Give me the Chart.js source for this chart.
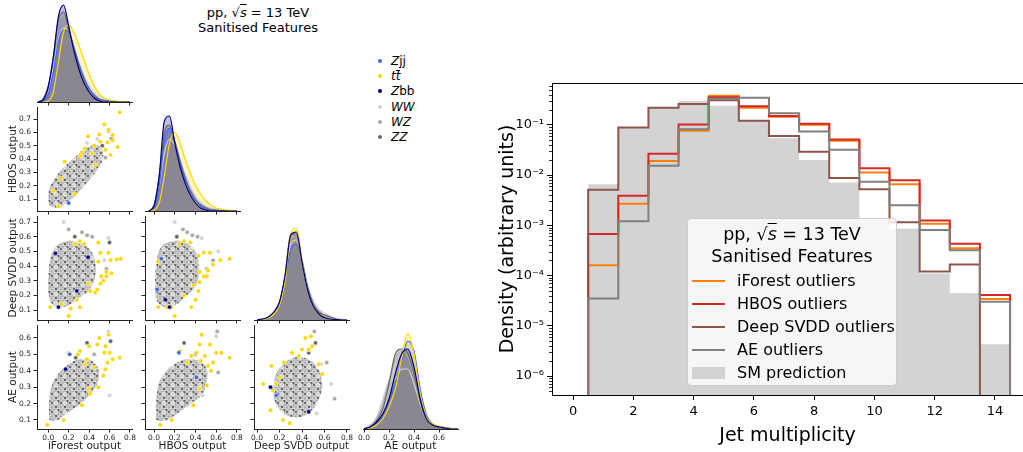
<!DOCTYPE html>
<html>
<head>
<meta charset="utf-8">
<script src="https://cdn.jsdelivr.net/npm/chart.js@4.4.0/dist/chart.umd.min.js"></script>
<style>
  body { margin: 0; width: 1023px; height: 452px; overflow: hidden; background: #fff; position: relative;
         font-family: "DejaVu Sans", sans-serif; color: #000; }
  canvas { position: absolute; }
  .txt { position: absolute; white-space: nowrap; }
  .rad { text-decoration: overline; font-style: italic; }
  .bar { display: inline-block; border-top: 1px solid #000; line-height: 11px; }
</style>
</head>
<body>
<script>
// ---------- data ----------
// physics processes (same order everywhere)
const classNames = ['<i>Z</i>jj', '<i>t<span class="bar">t</span></i>', '<i>Z</i>bb', '<i>WW</i>', '<i>WZ</i>', '<i>ZZ</i>'];
const classColors = ['#4169e1', '#ffd700', '#000080', '#d3d3d3', '#a9a9a9', '#696969'];

// right plot: jet multiplicity histograms (density per bin)
const jetBins = [1, 2, 3, 4, 5, 6, 7, 8, 9, 10, 11, 12, 13, 14];
const iforestOut = [1.6e-4, 2.7e-3, 0.019, 0.076, 0.38, 0.22, 0.145, 0.1, 0.048, 0.0112, 6.6e-3, 1.07e-3, 3.5e-4, 3.4e-5];
const hbosOut = [6.7e-4, 3.9e-3, 0.0265, 0.101, 0.355, 0.235, 0.15, 0.105, 0.051, 0.0137, 7.9e-3, 1.25e-3, 4.3e-4, 4.1e-5];
const svddOut = [5.1e-3, 0.088, 0.22, 0.26, 0.31, 0.12, 0.06, 0.029, 8.7e-3, 5.2e-3, 1.15e-3, 1.2e-4, 1.66e-4, 0];
const aeOut = [3.5e-5, 1.2e-3, 0.0153, 0.082, 0.33, 0.345, 0.17, 0.074, 0.032, 7.4e-3, 2.5e-3, 8.1e-4, 3.2e-4, 3.0e-5];
const smPred = [6.6e-3, 0.09, 0.22, 0.30, 0.24, 0.12, 0.054, 0.020, 7.1e-3, 1.3e-3, 8.5e-4, 1.1e-4, 4.5e-5, 4.3e-6];
const jetTicks = [0, 2, 4, 6, 8, 10, 12, 14];
const densityTicks = [1e-6, 1e-5, 1e-4, 1e-3, 1e-2, 1e-1];

// corner plot: axis names and ticks
const axisNames = ['iForest output', 'HBOS output', 'Deep SVDD output', 'AE output'];
const xTickVals = [[0, 0.2, 0.4, 0.6, 0.8], [0, 0.2, 0.4, 0.6, 0.8], [0, 0.2, 0.4, 0.6, 0.8], [0, 0.2, 0.4, 0.6]];
const yTickVals = [null, [0.1, 0.2, 0.3, 0.4, 0.5, 0.6, 0.7], [0.1, 0.2, 0.3, 0.4, 0.5, 0.6, 0.7], [0.1, 0.2, 0.3, 0.4, 0.5, 0.6]];

// diagonal KDEs (relative density), rows = Zjj, tt, Zbb, WW, WZ, ZZ
const gridIf = [-0.1, -0.05, 0, 0.05, 0.1, 0.15, 0.2, 0.25, 0.3, 0.35, 0.4, 0.45, 0.5, 0.55, 0.6, 0.65, 0.7, 0.75, 0.8];
const kdeIf = [
  [0, 1, 8, 30, 60, 72, 70, 55, 38, 24, 13, 6, 2, 1, 0, 0, 0, 0, 0],
  [0, 0, 1, 10, 40, 70, 77, 70, 57, 42, 28, 16, 8, 4, 2, 1, 0.5, 0.3, 0],
  [0, 2, 15, 45, 86, 97, 76, 52, 33, 19, 10, 4, 1, 0, 0, 0, 0, 0, 0],
  [0, 2, 10, 35, 62, 74, 70, 56, 40, 27, 17, 10, 5, 3, 2, 1, 0.5, 0, 0],
  [0, 3, 15, 43, 78, 86, 72, 55, 38, 24, 14, 7, 3, 1.5, 1, 0.5, 0, 0, 0],
  [0, 3, 16, 45, 82, 90, 72, 54, 37, 23, 13, 7, 3, 1.5, 1, 0.5, 0, 0, 0]
];
const gridHb = [-0.05, 0, 0.05, 0.1, 0.15, 0.2, 0.25, 0.3, 0.35, 0.4, 0.45, 0.5, 0.55, 0.6, 0.65, 0.7, 0.75, 0.8];
const kdeHb = [
  [0, 3, 25, 70, 83, 68, 48, 32, 20, 11, 5, 2, 1, 0, 0, 0, 0, 0],
  [0, 1, 8, 35, 68, 79, 68, 52, 38, 26, 17, 10, 6, 3, 2, 1, 0.5, 0],
  [0, 5, 35, 90, 95, 68, 45, 28, 16, 8, 3, 1, 0, 0, 0, 0, 0, 0],
  [0, 4, 25, 58, 72, 66, 52, 37, 25, 15, 9, 5, 3, 2, 1, 0.5, 0, 0],
  [0, 5, 32, 74, 84, 70, 52, 35, 22, 13, 7, 4, 2, 1, 0.5, 0, 0, 0],
  [0, 6, 35, 78, 86, 70, 50, 33, 20, 11, 6, 3, 1.5, 1, 0.5, 0, 0, 0]
];
const gridSv = [0, 0.05, 0.1, 0.15, 0.2, 0.25, 0.3, 0.35, 0.4, 0.45, 0.5, 0.55, 0.6, 0.65, 0.7, 0.75, 0.8];
const kdeSv = [
  [0, 1, 3, 8, 18, 42, 70, 76, 60, 33, 15, 6, 2, 1, 0, 0, 0],
  [0, 0.5, 2, 6, 15, 40, 85, 92, 60, 30, 14, 6, 3, 1, 0.5, 0, 0],
  [0, 1, 3, 8, 18, 45, 85, 88, 58, 30, 14, 6, 2.5, 1, 0.5, 0, 0],
  [0, 0.5, 2, 6, 16, 40, 76, 80, 58, 35, 20, 11, 7, 4, 2, 1, 0],
  [0, 0.5, 2, 6, 17, 44, 82, 84, 58, 33, 17, 9, 5, 3, 1, 0.5, 0],
  [0, 0.5, 2, 6, 17, 45, 86, 86, 58, 32, 16, 8, 5, 3, 1, 0, 0]
];
const gridAe = [0, 0.05, 0.1, 0.15, 0.2, 0.25, 0.3, 0.35, 0.4, 0.45, 0.5, 0.55, 0.6, 0.65, 0.7, 0.75];
const kdeAe = [
  [0, 2, 6, 14, 28, 45, 68, 88, 78, 40, 14, 5, 2, 1, 0, 0],
  [0, 1, 4, 10, 22, 40, 70, 96, 75, 35, 12, 5, 3, 1.5, 0.5, 0],
  [0, 2, 7, 15, 30, 55, 75, 80, 62, 30, 10, 4, 2, 1, 0, 0],
  [1, 4, 12, 30, 48, 50, 60, 60, 45, 25, 10, 5, 3, 2, 1, 0],
  [0, 3, 10, 25, 48, 70, 78, 72, 52, 27, 10, 4, 2, 1, 0.5, 0],
  [0, 2, 8, 20, 45, 75, 80, 76, 55, 28, 10, 4, 2, 1, 0, 0]
];

// scatter panels: dense core outline [x, y] and single visible events [x, y, class]
const cloudIfHb = [[0.01, 0.05], [0.1, 0.035], [0.21, 0.09], [0.31, 0.16], [0.41, 0.25], [0.49, 0.33], [0.54, 0.42], [0.5, 0.5], [0.39, 0.49], [0.3, 0.44], [0.21, 0.38], [0.13, 0.32], [0.05, 0.24], [0.0, 0.14]];
const eventsIfHb = [
  [0.62, 0.55, 5], [0.48, 0.55, 3], [0.59, 0.61, 4], [0.43, 0.49, 4], [0.53, 0.5, 5], [0.38, 0.52, 3], [0.56, 0.41, 4],
  [0.70, 0.75, 1], [0.55, 0.66, 1], [0.59, 0.62, 1], [0.39, 0.57, 1], [0.50, 0.585, 1], [0.63, 0.58, 1], [0.63, 0.54, 1],
  [0.68, 0.49, 1], [0.61, 0.43, 1], [0.56, 0.47, 1], [0.51, 0.53, 1], [0.43, 0.44, 1], [0.33, 0.45, 1], [0.31, 0.42, 1],
  [0.16, 0.38, 1], [0.12, 0.255, 1], [0.05, 0.16, 1], [0.1, 0.045, 1], [0.26, 0.137, 1], [0.46, 0.355, 1], [0.58, 0.525, 1],
  [0.45, 0.5, 1], [0.36, 0.48, 1], [0.2, 0.07, 0]
];
const cloudIfSv = [[0.0, 0.2], [0.04, 0.14], [0.12, 0.12], [0.22, 0.14], [0.32, 0.19], [0.41, 0.24], [0.46, 0.33], [0.46, 0.43], [0.41, 0.51], [0.3, 0.56], [0.18, 0.57], [0.07, 0.53], [0.02, 0.45], [0.0, 0.32]];
const eventsIfSv = [
  [0.15, 0.70, 3], [0.2, 0.65, 4], [0.33, 0.63, 4], [0.38, 0.61, 4], [0.43, 0.6, 4], [0.59, 0.59, 3], [0.6, 0.56, 5],
  [0.57, 0.38, 4], [0.55, 0.44, 3], [0.26, 0.6, 5],
  [0.02, 0.12, 1], [0.2, 0.06, 1], [0.22, 0.11, 1], [0.31, 0.12, 1], [0.39, 0.28, 1], [0.41, 0.23, 1], [0.46, 0.22, 1],
  [0.48, 0.24, 1], [0.51, 0.28, 1], [0.54, 0.3, 1], [0.57, 0.33, 1], [0.52, 0.33, 1], [0.57, 0.36, 1], [0.62, 0.35, 1],
  [0.67, 0.445, 1], [0.71, 0.45, 1], [0.61, 0.44, 1], [0.59, 0.49, 1], [0.51, 0.49, 1], [0.49, 0.43, 1], [0.31, 0.57, 1],
  [0.35, 0.55, 1], [0.26, 0.55, 1], [0.49, 0.56, 1], [0.13, 0.14, 1], [0.28, 0.17, 1],
  [0.07, 0.486, 2], [0.1, 0.12, 2], [0.39, 0.46, 2], [0.28, 0.23, 2]
];
const cloudHbSv = [[0.01, 0.2], [0.05, 0.14], [0.13, 0.12], [0.22, 0.14], [0.3, 0.19], [0.39, 0.25], [0.43, 0.33], [0.43, 0.43], [0.39, 0.51], [0.3, 0.56], [0.18, 0.57], [0.07, 0.53], [0.03, 0.45], [0.01, 0.32]];
const eventsHbSv = [
  [0.2, 0.70, 3], [0.28, 0.65, 4], [0.32, 0.63, 4], [0.37, 0.61, 4], [0.42, 0.6, 4], [0.46, 0.59, 3], [0.62, 0.5, 3],
  [0.57, 0.44, 4], [0.51, 0.38, 4], [0.22, 0.6, 5],
  [0.04, 0.12, 1], [0.125, 0.12, 1], [0.2, 0.06, 1], [0.17, 0.12, 1], [0.36, 0.12, 1], [0.29, 0.2, 1], [0.43, 0.23, 1],
  [0.38, 0.27, 1], [0.44, 0.29, 1], [0.48, 0.33, 1], [0.51, 0.33, 1], [0.44, 0.36, 1], [0.52, 0.37, 1], [0.57, 0.41, 1],
  [0.64, 0.44, 1], [0.73, 0.45, 1], [0.54, 0.49, 1], [0.48, 0.49, 1], [0.43, 0.47, 1], [0.04, 0.43, 1], [0.29, 0.57, 1],
  [0.35, 0.56, 1], [0.24, 0.55, 1], [0.4, 0.17, 1],
  [0.15, 0.12, 2], [0.11, 0.17, 2], [0.07, 0.45, 0], [0.03, 0.24, 0]
];
const cloudIfAe = [[0.01, 0.1], [0.08, 0.095], [0.16, 0.13], [0.25, 0.17], [0.34, 0.21], [0.43, 0.27], [0.49, 0.34], [0.49, 0.41], [0.43, 0.46], [0.3, 0.47], [0.2, 0.44], [0.11, 0.39], [0.04, 0.32], [0.01, 0.22]];
const eventsIfAe = [
  [0.59, 0.64, 3], [0.61, 0.58, 5], [0.38, 0.57, 5], [0.2, 0.51, 3], [0.6, 0.25, 3], [0.48, 0.4, 4], [0.45, 0.5, 4], [0.27, 0.48, 5],
  [-0.01, 0.07, 1], [0.15, 0.1, 1], [0.33, 0.19, 1], [0.41, 0.26, 1], [0.40, 0.29, 1], [0.49, 0.3, 1], [0.54, 0.37, 1],
  [0.56, 0.41, 1], [0.58, 0.45, 1], [0.63, 0.47, 1], [0.70, 0.48, 1], [0.6, 0.51, 1], [0.55, 0.51, 1], [0.56, 0.55, 1],
  [0.59, 0.62, 1], [0.5, 0.6, 1], [0.4, 0.55, 1], [0.48, 0.56, 1], [0.31, 0.52, 1], [0.38, 0.47, 1], [0.29, 0.5, 1],
  [0.45, 0.42, 1], [0.36, 0.44, 1],
  [0.21, 0.5, 0], [0.17, 0.41, 2]
];
const cloudHbAe = [[0.02, 0.1], [0.1, 0.095], [0.18, 0.12], [0.27, 0.16], [0.36, 0.2], [0.46, 0.25], [0.51, 0.33], [0.51, 0.41], [0.44, 0.46], [0.32, 0.47], [0.22, 0.45], [0.12, 0.4], [0.05, 0.33], [0.02, 0.22]];
const eventsHbAe = [
  [0.61, 0.64, 4], [0.6, 0.61, 3], [0.29, 0.57, 5], [0.62, 0.39, 4], [0.47, 0.25, 3], [0.4, 0.5, 4],
  [0.06, 0.07, 1], [0.17, 0.1, 1], [0.38, 0.19, 1], [0.44, 0.29, 1], [0.51, 0.31, 1], [0.55, 0.4, 1], [0.57, 0.45, 1],
  [0.6, 0.51, 1], [0.65, 0.51, 1], [0.73, 0.48, 1], [0.54, 0.56, 1], [0.46, 0.62, 1], [0.44, 0.56, 1], [0.41, 0.51, 1],
  [0.49, 0.49, 1], [0.25, 0.52, 1], [0.32, 0.45, 1], [0.45, 0.46, 1], [0.36, 0.49, 1], [0.52, 0.43, 1],
  [0.24, 0.51, 0], [0.41, 0.36, 0]
];
const cloudSvAe = [[0.14, 0.3], [0.16, 0.21], [0.22, 0.15], [0.3, 0.12], [0.4, 0.12], [0.49, 0.16], [0.55, 0.23], [0.58, 0.3], [0.56, 0.39], [0.5, 0.45], [0.42, 0.48], [0.32, 0.48], [0.23, 0.44], [0.17, 0.38]];
const eventsSvAe = [
  [0.51, 0.64, 4], [0.52, 0.57, 5], [0.46, 0.51, 5], [0.62, 0.45, 4], [0.66, 0.32, 3], [0.69, 0.23, 4], [0.57, 0.44, 3], [0.53, 0.14, 3],
  [0.056, 0.32, 1], [0.13, 0.43, 1], [0.12, 0.16, 1], [0.23, 0.1, 1], [0.29, 0.08, 1], [0.43, 0.6, 1], [0.48, 0.61, 1],
  [0.49, 0.55, 1], [0.46, 0.53, 1], [0.37, 0.49, 1], [0.31, 0.51, 1], [0.55, 0.44, 1], [0.58, 0.38, 1], [0.2, 0.36, 1],
  [0.17, 0.32, 1], [0.14, 0.28, 1], [0.46, 0.15, 1], [0.4, 0.53, 1], [0.24, 0.45, 1],
  [0.12, 0.3, 2], [0.17, 0.25, 0], [0.46, 0.15, 2]
];

// ---------- layout / style ----------
const FONT = '"DejaVu Sans", sans-serif';
Chart.defaults.font.family = FONT;
Chart.defaults.color = '#222';

const colLeft = [37, 145, 254, 363];
const rowTop = [-2, 107, 216, 325];
const PW = 95, PH = 104;
const ML = 37, MT = 10, MR = 10, MB = 24;
const xLimits = [[-0.11, 0.82], [-0.087, 0.83], [-0.027, 0.818], [-0.008, 0.752]];
const yLimits = [null, [0.01, 0.79], [0.032, 0.741], [0.045, 0.679]];

function makeCanvas(left, top, w, h) {
  const c = document.createElement('canvas');
  c.width = w; c.height = h;
  c.style.left = left + 'px'; c.style.top = top + 'px';
  document.body.appendChild(c);
  return c.getContext('2d');
}

// force axis box sizes so plot areas line up exactly
const fixSize = (w, h) => (s) => {
  if (w != null) s.width = w;
  if (h != null) s.height = h;
  s.paddingLeft = s.paddingRight = s.paddingTop = s.paddingBottom = 0;
};

function withAlpha(hex, a) {
  const n = parseInt(hex.slice(1), 16);
  return `rgba(${n >> 16},${(n >> 8) & 255},${n & 255},${a})`;
}

// texture for the dense core of the scatter clouds (white-edged grey markers)
function cloudPattern() {
  const t = document.createElement('canvas');
  t.width = t.height = 9;
  const g = t.getContext('2d');
  g.fillStyle = '#b4b4b4'; g.fillRect(0, 0, 9, 9);
  const dot = (x, y, col) => {
    g.beginPath(); g.arc(x, y, 1.9, 0, 2 * Math.PI); g.fillStyle = '#fff'; g.fill();
    g.beginPath(); g.arc(x, y, 1.45, 0, 2 * Math.PI); g.fillStyle = col; g.fill();
  };
  dot(2, 2, '#696969'); dot(6.8, 2.6, '#a9a9a9'); dot(4.4, 5.2, '#696969');
  dot(2.1, 7, '#d3d3d3'); dot(7, 7, '#6e6e6e');
  return g.createPattern(t, 'repeat');
}

function kdeSets(grid, kde) {
  const drawOrder = [3, 4, 5, 0, 1, 2]; // greys at the back, Zbb on top
  return drawOrder.map((c, k) => ({
    type: 'line',
    data: grid.map((x, i) => ({ x, y: kde[c][i] })),
    borderColor: classColors[c],
    backgroundColor: withAlpha(classColors[c], 0.25),
    borderWidth: 1.2,
    fill: 'origin',
    pointRadius: 0,
    cubicInterpolationMode: 'monotone',
    order: 10 - k
  }));
}

function scatterSets(cloud, events) {
  const sets = [{
    type: 'line',
    data: cloud.concat([cloud[0]]).map(([x, y]) => ({ x, y })),
    fill: 'shape',
    backgroundColor: cloudPattern(),
    borderWidth: 0,
    pointRadius: 0,
    tension: 0.35,
    order: 20
  }];
  [3, 4, 5, 1, 0, 2].forEach((c, k) => {
    sets.push({
      type: 'scatter',
      data: events.filter(e => e[2] === c).map(([x, y]) => ({ x, y })),
      pointRadius: 2.2,
      pointBackgroundColor: classColors[c],
      pointBorderColor: '#fff',
      pointBorderWidth: 0.5,
      order: 10 - k
    });
  });
  return sets;
}

function cornerPanel(row, col, datasets) {
  const diag = row === col;
  const last = row === 3;
  const ctx = makeCanvas(colLeft[col] - ML, rowTop[row] - MT, ML + PW + MR, MT + PH + MB);
  const tickFont = { family: FONT, size: 7.5 };
  const titleFont = { family: FONT, size: 10.5 };
  const yScale = diag ? { type: 'linear', display: false, min: 0, max: 104 } : {
    type: 'linear', min: yLimits[row][0], max: yLimits[row][1],
    afterBuildTicks: s => { s.ticks = yTickVals[row].map(v => ({ value: v })); },
    afterFit: fixSize(ML, null),
    grid: { drawOnChartArea: false, tickLength: 3.5, color: '#222' },
    border: { color: '#222', width: 1 },
    ticks: { display: col === 0, font: tickFont, color: '#222', padding: 2.5, callback: v => v.toFixed(1) },
    title: { display: col === 0, text: axisNames[row], font: titleFont, color: '#222', padding: { top: 6.5 } }
  };
  return new Chart(ctx, {
    type: 'scatter',
    data: { datasets },
    options: {
      responsive: false, animation: false, events: [],
      layout: { padding: { left: diag ? ML : 0, top: MT, right: MR, bottom: 0 } },
      plugins: { legend: { display: false }, tooltip: { enabled: false }, filler: { drawTime: 'beforeDatasetsDraw' } },
      scales: {
        x: {
          type: 'linear', min: xLimits[col][0], max: xLimits[col][1],
          afterBuildTicks: s => { s.ticks = xTickVals[col].map(v => ({ value: v })); },
          afterFit: fixSize(null, MB),
          grid: { drawOnChartArea: false, tickLength: 3.5, color: '#222' },
          border: { color: '#222', width: 1 },
          ticks: { display: last, font: tickFont, color: '#222', padding: 1, maxRotation: 0, callback: v => v.toFixed(1) },
          title: { display: last, text: axisNames[col], font: titleFont, color: '#222', padding: 0 }
        },
        y: yScale
      }
    }
  });
}

// ---------- corner plot ----------
cornerPanel(0, 0, kdeSets(gridIf, kdeIf));
cornerPanel(1, 0, scatterSets(cloudIfHb, eventsIfHb));
cornerPanel(1, 1, kdeSets(gridHb, kdeHb));
cornerPanel(2, 0, scatterSets(cloudIfSv, eventsIfSv));
cornerPanel(2, 1, scatterSets(cloudHbSv, eventsHbSv));
cornerPanel(2, 2, kdeSets(gridSv, kdeSv));
cornerPanel(3, 0, scatterSets(cloudIfAe, eventsIfAe));
cornerPanel(3, 1, scatterSets(cloudHbAe, eventsHbAe));
cornerPanel(3, 2, scatterSets(cloudSvAe, eventsSvAe));
cornerPanel(3, 3, kdeSets(gridAe, kdeAe));

function addText(html, css) {
  const d = document.createElement('div');
  d.className = 'txt';
  d.innerHTML = html;
  Object.assign(d.style, css);
  document.body.appendChild(d);
  return d;
}

addText('pp, √<span class="rad">s</span> = 13 TeV<br>Sanitised Features',
  { left: '158px', top: '5px', width: '200px', textAlign: 'center', fontSize: '13px', lineHeight: '15px' });

const legendRowsY = [61, 76, 91, 107, 122, 137];
classNames.forEach((name, i) => {
  addText('', { left: '378px', top: (legendRowsY[i] - 2) + 'px', width: '4px', height: '4px',
    borderRadius: '50%', background: classColors[i] });
  addText(name, { left: '391px', top: (legendRowsY[i] - 8) + 'px', fontSize: '12px', lineHeight: '16px' });
});

// ---------- jet multiplicity plot ----------
const FLOOR = 1e-9;
function stepPoints(vals) {
  const lo = jetBins[0] - 0.5, n = vals.length;
  const pts = [{ x: lo, y: FLOOR }];
  vals.forEach((v, i) => pts.push({ x: jetBins[i] - 0.5, y: v > 0 ? v : FLOOR }));
  pts.push({ x: jetBins[n - 1] + 0.5, y: vals[n - 1] > 0 ? vals[n - 1] : FLOOR });
  pts.push({ x: jetBins[n - 1] + 0.5, y: FLOOR });
  return pts;
}

const series = [
  { label: 'iForest outliers', values: iforestOut, color: '#ff7f0e', order: 4 },
  { label: 'HBOS outliers', values: hbosOut, color: '#d62728', order: 3 },
  { label: 'Deep SVDD outliers', values: svddOut, color: '#8c564b', order: 2 },
  { label: 'AE outliers', values: aeOut, color: '#7f7f7f', order: 1 }
];

const histSets = series.map(s => ({
  label: s.label, data: stepPoints(s.values), stepped: 'before',
  borderColor: s.color, borderWidth: 2, pointRadius: 0, fill: false, order: s.order
}));
histSets.push({
  label: 'SM prediction', data: stepPoints(smPred), stepped: 'before',
  borderWidth: 0, borderColor: 'rgba(0,0,0,0)', backgroundColor: '#d3d3d3', pointRadius: 0, fill: 'start', order: 5
});

const SUP = { '-': '⁻', '0': '⁰', '1': '¹', '2': '²', '3': '³', '4': '⁴', '5': '⁵', '6': '⁶', '7': '⁷', '8': '⁸', '9': '⁹' };
const powLabel = v => '10' + String(Math.round(Math.log10(v))).split('').map(ch => SUP[ch]).join('');

const frame = {
  id: 'frame',
  afterDraw(chart) {
    const s = chart.scales.y, g = chart.ctx, a = chart.chartArea;
    g.save();
    g.strokeStyle = '#000';
    g.lineWidth = 0.8;
    for (let e = -7; e <= 0; e++) {
      for (let m = 2; m <= 9; m++) {
        const v = m * Math.pow(10, e);
        if (v < s.min || v > s.max) continue;
        const y = Math.round(s.getPixelForValue(v)) + 0.5;
        g.beginPath(); g.moveTo(a.left - 3, y); g.lineTo(a.left, y); g.stroke();
      }
    }
    g.lineWidth = 1;
    g.beginPath(); g.moveTo(a.left, a.top + 0.5); g.lineTo(a.right, a.top + 0.5); g.stroke();
    g.restore();
  }
};

const rightCtx = makeCanvas(470, 0, 553, 452);
const jetChart = new Chart(rightCtx, {
  type: 'line',
  data: { datasets: histSets },
  options: {
    responsive: false, animation: false, events: [],
    layout: { padding: { left: 0, top: 83, right: 0, bottom: 0 } },
    plugins: { legend: { display: false }, tooltip: { enabled: false } },
    scales: {
      x: {
        type: 'linear', min: -0.7, max: 14.93,
        afterBuildTicks: s => { s.ticks = jetTicks.map(v => ({ value: v })); },
        afterFit: fixSize(null, 57),
        grid: { drawOnChartArea: false, tickLength: 5, color: '#000' },
        border: { color: '#000', width: 1 },
        ticks: { font: { family: FONT, size: 13 }, color: '#000', padding: 4, maxRotation: 0 },
        title: { display: true, text: 'Jet multiplicity', font: { family: FONT, size: 19 }, color: '#000', padding: { bottom: 4.6 } }
      },
      y: {
        type: 'logarithmic', min: 4.2e-7, max: 0.68,
        afterBuildTicks: s => { s.ticks = densityTicks.map(v => ({ value: v })); },
        afterFit: fixSize(82, null),
        grid: { drawOnChartArea: false, tickLength: 5, color: '#000' },
        border: { color: '#000', width: 1 },
        ticks: { font: { family: FONT, size: 13 }, color: '#000', padding: 3, callback: v => powLabel(v) },
        title: { display: true, text: 'Density (arbitrary units)', font: { family: FONT, size: 19 }, color: '#000', padding: { top: 27 } }
      }
    }
  },
  plugins: [frame]
});

// legend built from the chart's own datasets
const box = addText('', { left: '687px', top: '218px', width: '208px', height: '166px',
  background: 'rgba(255,255,255,0.8)', border: '1px solid #cccccc', borderRadius: '4px' });
box.innerHTML =
  '<div class="txt" style="left:0;top:4px;width:208px;text-align:center;font-size:17.5px;line-height:22px">' +
  'pp, √<span class="rad">s</span> = 13 TeV<br>Sanitised Features</div>';
const legendCentres = [62, 85, 108, 131, 154];
jetChart.data.datasets.forEach((ds, i) => {
  const cy = legendCentres[i];
  const isFill = ds.fill === 'start';
  const handle = document.createElement('div');
  handle.className = 'txt';
  Object.assign(handle.style, isFill
    ? { left: '4px', top: (cy - 6) + 'px', width: '33px', height: '12px', background: ds.backgroundColor }
    : { left: '4px', top: (cy - 1) + 'px', width: '33px', height: '2px', background: ds.borderColor });
  box.appendChild(handle);
  const lab = document.createElement('div');
  lab.className = 'txt';
  lab.textContent = ds.label;
  Object.assign(lab.style, { left: '49px', top: (cy - 10) + 'px', fontSize: '16px', lineHeight: '20px' });
  box.appendChild(lab);
});
</script>
</body>
</html>
